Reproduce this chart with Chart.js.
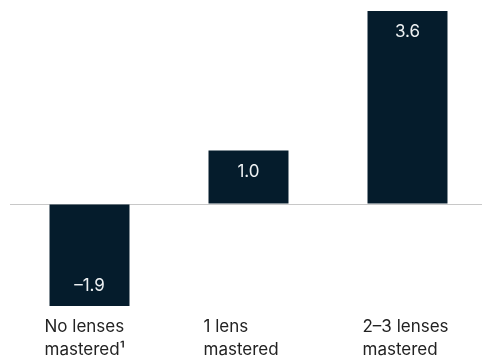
<!DOCTYPE html>
<html>
<head>
<meta charset="utf-8">
<script src="https://cdn.jsdelivr.net/npm/chart.js@4.4.1/dist/chart.umd.min.js"></script>
<style>
  html, body { margin: 0; padding: 0; background: #fff; overflow: hidden; }
  #wrap { width: 520px; height: 370px; }
</style>
</head>
<body>
<div id="wrap"><canvas id="grafico"></canvas></div>
<script>
// Dados do gráfico
const categorias = [
  ['No lenses', 'mastered¹'],
  ['1 lens', 'mastered'],
  ['2–3 lenses', 'mastered']
];
const valores = [-1.9, 1.0, 3.6];

const corBarra = '#051c2c';
const fonte = 'Inter, "Liberation Sans", Arial, sans-serif';

// Plugin simples para escrever o valor dentro da ponta de cada barra
const rotulosValores = {
  id: 'rotulosValores',
  afterDatasetsDraw(chart) {
    const ctx = chart.ctx;
    const meta = chart.getDatasetMeta(0);
    ctx.save();
    ctx.fillStyle = '#eef1f3';
    ctx.font = '17px ' + fonte;
    ctx.textAlign = 'center';
    ctx.textBaseline = 'middle';
    meta.data.forEach((barra, i) => {
      const v = valores[i];
      const texto = v.toFixed(1).replace('-', '–');
      const y = v >= 0 ? barra.y + 21 : barra.y - 20;
      ctx.fillText(texto, barra.x, y);
    });
    ctx.restore();
  }
};

new Chart(document.getElementById('grafico'), {
  type: 'bar',
  data: {
    labels: categorias,
    datasets: [{
      data: valores,
      backgroundColor: corBarra,
      borderWidth: 0,
      categoryPercentage: 1,
      barPercentage: 0.503
    }]
  },
  options: {
    responsive: true,
    maintainAspectRatio: false,
    animation: false,
    layout: { padding: { top: 11, left: 10, right: 33, bottom: 0 } },
    plugins: {
      legend: { display: false },
      tooltip: { enabled: false }
    },
    scales: {
      x: {
        grid: { display: false, drawTicks: false },
        border: { display: false },
        ticks: {
          align: 'start',
          labelOffset: -45,
          padding: 9,
          color: '#222222',
          font: { family: fonte, size: 17, lineHeight: '23px' }
        }
      },
      y: {
        min: -1.9,
        max: 3.6,
        ticks: { display: false, stepSize: 1 },
        border: { display: false },
        grid: {
          drawTicks: false,
          color: (c) => (c.tick && c.tick.value === 0 ? '#c8c8c8' : 'rgba(0,0,0,0)'),
          lineWidth: 1
        }
      }
    }
  },
  plugins: [rotulosValores]
});
</script>
</body>
</html>
